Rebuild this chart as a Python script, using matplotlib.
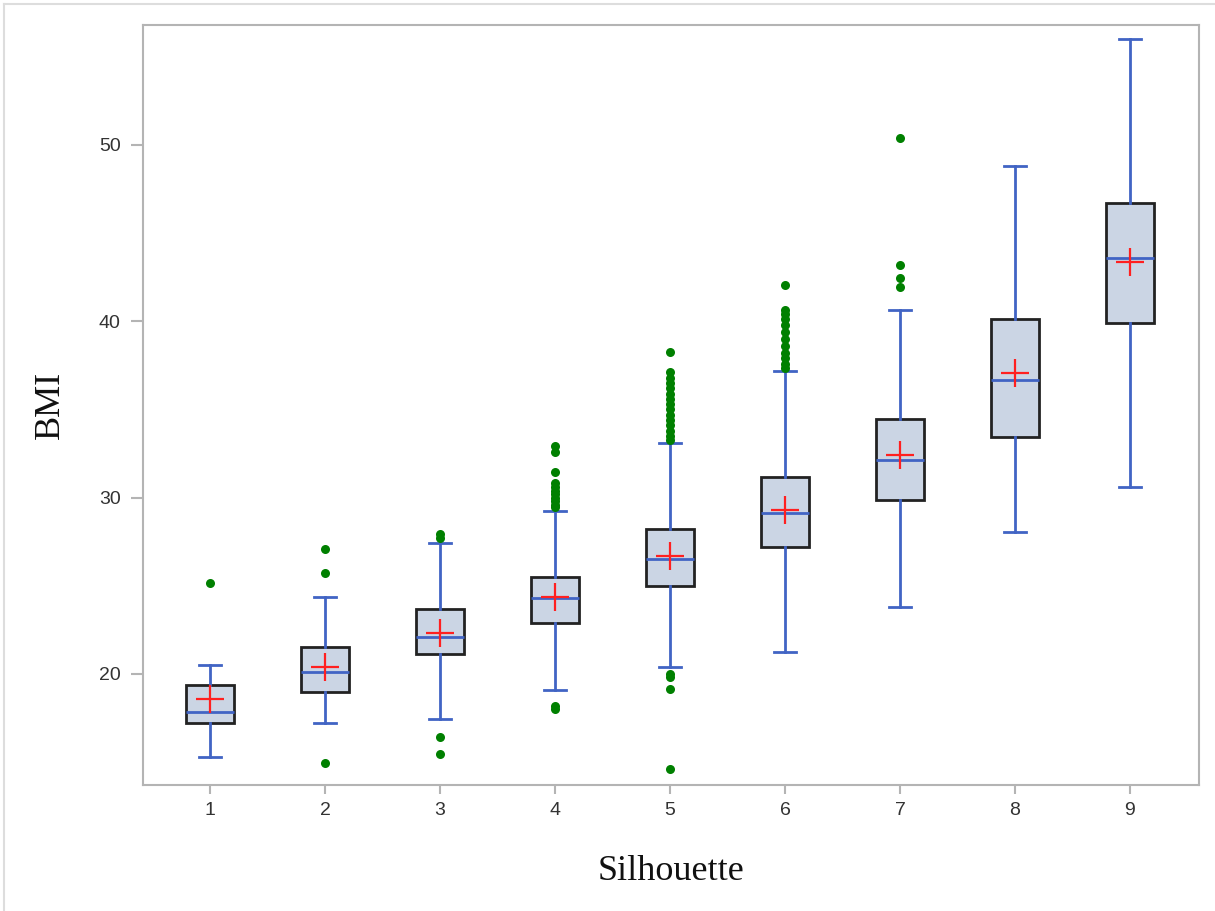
import matplotlib
matplotlib.use("Agg")
import matplotlib.pyplot as plt
from matplotlib.lines import Line2D

# BMI by silhouette group
silhouette = [1, 2, 3, 4, 5, 6, 7, 8, 9]
whisker_low = [15.28, 17.2, 17.45, 19.09, 20.4, 21.27, 23.8, 28.04, 30.59]
q1 = [17.24, 18.96, 21.12, 22.88, 24.99, 27.19, 29.87, 33.46, 39.89]
median = [17.86, 20.11, 22.1, 24.33, 26.5, 29.11, 32.14, 36.64, 43.57]
mean = [18.58, 20.38, 22.33, 24.38, 26.71, 29.3, 32.41, 37.09, 43.34]
q3 = [19.38, 21.51, 23.69, 25.52, 28.22, 31.17, 34.45, 40.12, 46.71]
whisker_high = [20.51, 24.37, 27.44, 29.26, 33.09, 37.15, 40.65, 48.81, 56.02]
outliers = [
    [25.15],
    [27.1, 25.75, 14.95],
    [27.95, 27.7, 16.4, 15.45],
    [32.95, 32.57, 31.47, 30.85, 30.6, 30.4, 30.2, 30.0, 29.8, 29.6, 29.45,
     18.2, 18.0],
    [38.28, 37.1, 36.8, 36.5, 36.2, 35.9, 35.6, 35.3, 35.0, 34.7, 34.4, 34.1,
     33.8, 33.5, 33.25, 20.0, 19.8, 19.15, 14.6],
    [42.05, 40.65, 40.4, 40.1, 39.8, 39.4, 39.0, 38.6, 38.2, 37.9, 37.6, 37.35],
    [50.4, 43.2, 42.45, 41.95],
    [],
    [],
]

stats = []
for i, s in enumerate(silhouette):
    stats.append({
        "label": str(s),
        "whislo": whisker_low[i], "q1": q1[i], "med": median[i],
        "mean": mean[i], "q3": q3[i], "whishi": whisker_high[i],
        "fliers": outliers[i],
    })

blue = "#4164c4"
grey = "#b4b4b4"

fig = plt.figure(figsize=(12.15, 9.11), dpi=100)
ax = fig.add_axes([0.1177, 0.1383, 0.8691, 0.8343])

ax.bxp(stats, positions=silhouette, widths=0.41, capwidths=0.19,
       patch_artist=True, showmeans=True,
       boxprops=dict(facecolor="#cbd5e4", edgecolor="#222222", linewidth=2),
       medianprops=dict(color=blue, linewidth=2),
       whiskerprops=dict(color=blue, linewidth=2),
       capprops=dict(color=blue, linewidth=2),
       meanprops=dict(marker="+", markeredgecolor="#ff2020",
                      markersize=20, markeredgewidth=1.6),
       flierprops=dict(marker="o", markerfacecolor="#008000",
                       markeredgecolor="none", markersize=6.5))

ax.set_xlim(0.417, 9.6)
ax.set_ylim(13.7, 56.8)
ax.set_yticks([20, 30, 40, 50])
ax.set_xticks(silhouette)
ax.set_xticklabels([str(s) for s in silhouette])

for sp in ax.spines.values():
    sp.set_color(grey)
    sp.set_linewidth(1.5)
ax.tick_params(axis="both", colors=grey, labelcolor="#333333",
               labelsize=14, width=1.5)
ax.tick_params(axis="y", length=9, pad=7)
ax.tick_params(axis="x", length=6.5, pad=6)
for lab in ax.get_xticklabels() + ax.get_yticklabels():
    lab.set_family("Liberation Sans")

ax.set_xlabel("Silhouette", family="Liberation Serif", fontsize=26,
              color="#111111", labelpad=26)
ax.set_ylabel("BMI", family="Liberation Serif", fontsize=26,
              color="#111111", labelpad=23)

# faint screenshot border on top and left
fig.add_artist(Line2D([0.0033, 1.0], [0.9956, 0.9956], color="#dddddd", lw=1.5))
fig.add_artist(Line2D([0.0030, 0.0030], [0.0, 0.9956], color="#dddddd", lw=1.5))

fig.savefig("out.png", dpi=100)
